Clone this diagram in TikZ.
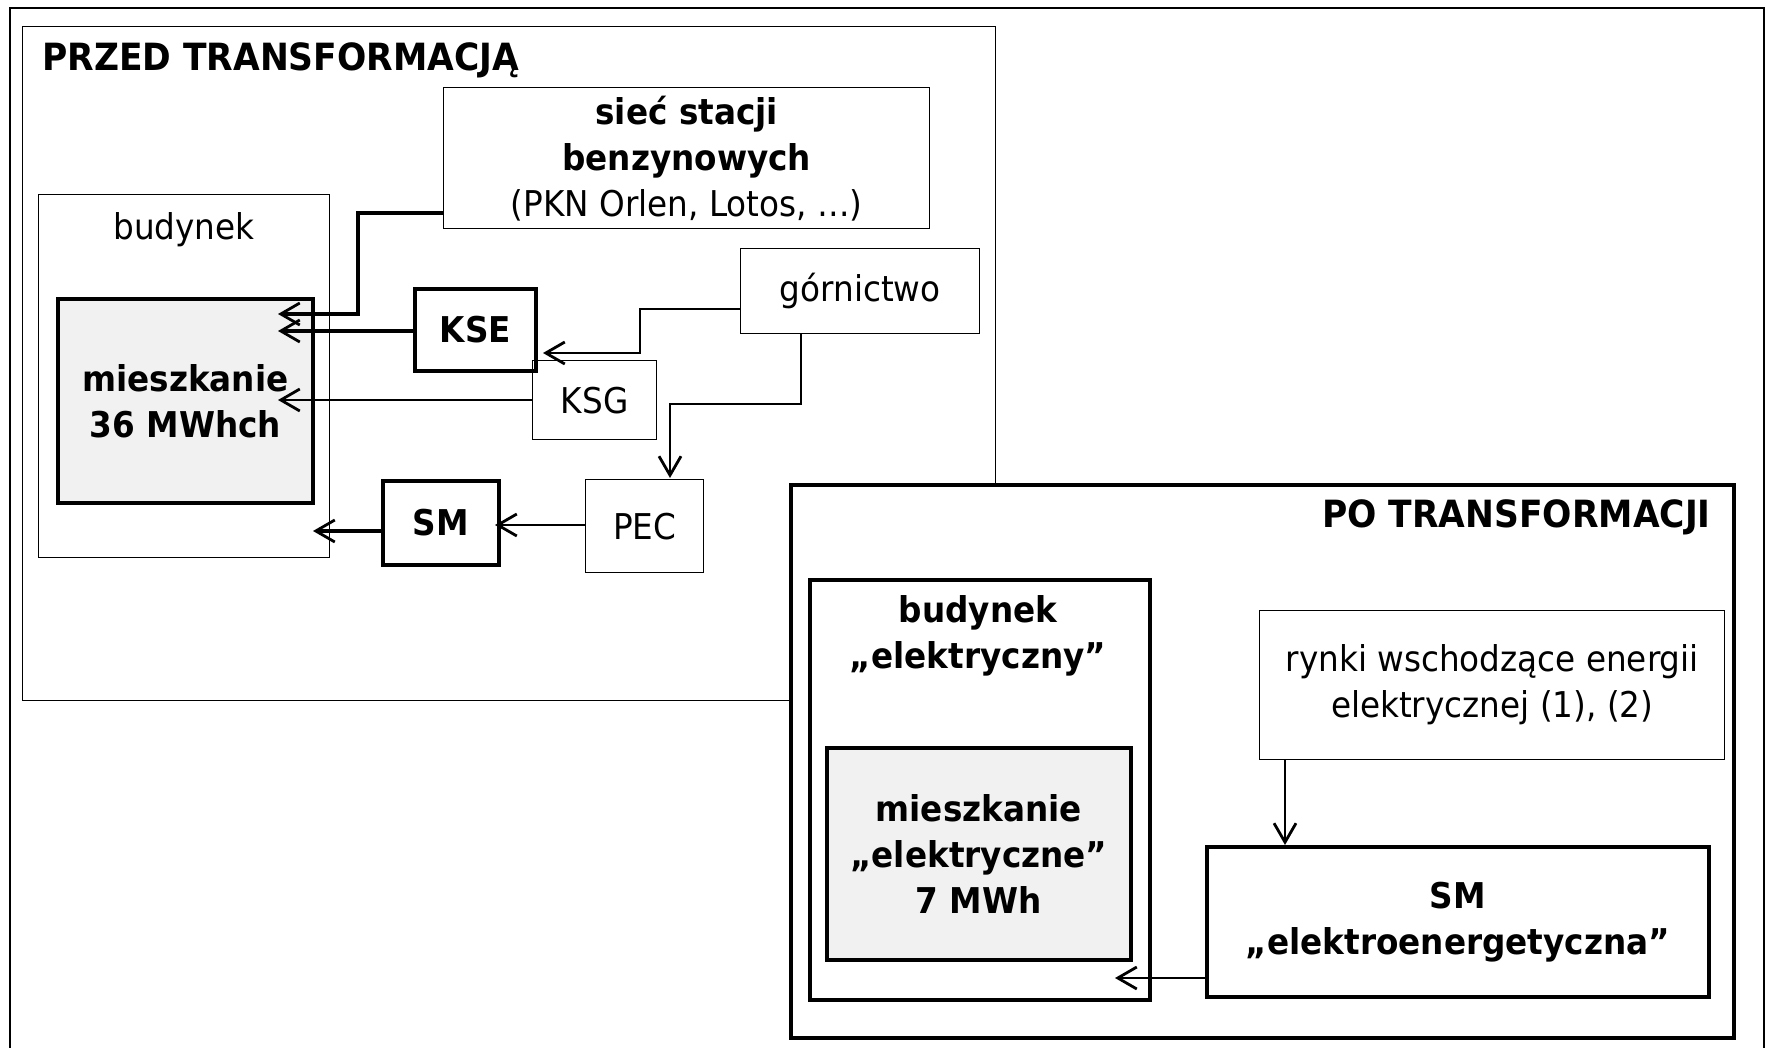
\documentclass[tikz,border=0pt]{standalone}
\usepackage{fontspec}
\setmainfont{DejaVu Sans}[FakeStretch=0.92]
\usetikzlibrary{arrows.meta}

\definecolor{flatgray}{HTML}{F1F1F1}

\tikzset{
  frame/.style={draw, line width=1.4pt, inner sep=0pt, anchor=north west},
  thinbox/.style={draw, line width=1.4pt, inner sep=0pt, anchor=north west, align=center,
                  font=\fontsize{35.5}{46}\selectfont},
  thickbox/.style={draw, line width=3.6pt, inner sep=0pt, anchor=north west, align=center,
                   font=\fontsize{35.5}{46}\selectfont\bfseries},
  flat/.style={fill=flatgray},
  label/.style={inner sep=0pt, align=center, font=\fontsize{35.5}{46}\selectfont},
  boldlabel/.style={inner sep=0pt, align=center, font=\fontsize{35.5}{46}\selectfont\bfseries},
  titlelabel/.style={inner sep=0pt, font=\fontsize{37.5}{46}\selectfont\bfseries},
  thinline/.style={line width=1.6pt},
  thickline/.style={line width=4.5pt},
  barb/.style={-{Straight Barb[length=19pt,width=22pt,line width=2.8pt]}},
}

\begin{document}
\begin{tikzpicture}[x=1pt, y=-1pt]
\useasboundingbox (0,0) rectangle (1769,1048);

% outer border (bottom edge lies on the page edge)
\draw[line width=2.2pt] (10,1048) -- (10,8) -- (1764,8) -- (1764,1048);

% ---------- before the transformation ----------
\node[frame, minimum width=973pt, minimum height=674pt] (przed) at (22,26) {};
\node[titlelabel, anchor=west] (przedtitle) at (42,60) {PRZED TRANSFORMACJĄ};

\node[thinbox, minimum width=486pt, minimum height=141pt] (siec) at (443,87)
  {\bfseries sieć stacji\\ \bfseries benzynowych\\ (PKN Orlen, Lotos, …)};

\node[thinbox, minimum width=291pt, minimum height=363pt] (bud) at (38,194) {};
\node[label] (budlabel) at (184,230) {budynek};

\node[thickbox, flat, minimum width=255pt, minimum height=204pt] (mieszk) at (56,297)
  {mieszkanie\\36 MWhch};

\node[thickbox, minimum width=121pt, minimum height=82pt] (kse) at (413,287) {KSE};
\node[thinbox, minimum width=239pt, minimum height=85pt] (gorn) at (740,248) {górnictwo};
\node[thinbox, minimum width=124pt, minimum height=79pt] (ksg) at (532,360) {KSG};
\node[thinbox, minimum width=118pt, minimum height=93pt] (pec) at (585,479) {PEC};
\node[thickbox, minimum width=116pt, minimum height=84pt] (sm) at (381,479) {SM};

% connector end points
\coordinate (yFuel) at (0,213);
\coordinate (tFuel) at (278,314);
\coordinate (tKse) at (278,331);
\coordinate (tKsg) at (278,400);
\coordinate (yMine) at (0,309);
\coordinate (tMineKse) at (543,353);
\coordinate (xMinePec) at (801,0);
\coordinate (tMinePec) at (670,478);
\coordinate (tPec) at (495,525);
\coordinate (yPec) at (0,525);
\coordinate (tSm) at (313,531);
\coordinate (ySm) at (0,531);

\draw[thickline, barb] (siec.west |- yFuel) -- (358,213) -- (358,314) -- (tFuel);
\draw[thickline, barb] (kse.west |- tKse) -- (tKse);
\draw[thinline, barb] (ksg.west |- tKsg) -- (tKsg);
\draw[thinline, barb] (gorn.west |- yMine) -- (640,309) -- (640,353) -- (tMineKse);
\draw[thinline, barb] (gorn.south -| xMinePec) -- (801,404) -- (670,404) -- (tMinePec);
\draw[thinline, barb] (pec.west |- yPec) -- (tPec);
\draw[thickline, barb] (sm.west |- ySm) -- (tSm);

% ---------- after the transformation ----------
\node[frame, line width=3.6pt, fill=white, minimum width=943pt, minimum height=553pt] (po) at (789,483) {};
\node[titlelabel, anchor=east] (potitle) at (1711,517) {PO TRANSFORMACJI};

\node[thickbox, minimum width=340pt, minimum height=420pt] (budel) at (808,578) {};
\node[boldlabel] (budellabel) at (978,636) {budynek\\„elektryczny”};

\node[thickbox, flat, minimum width=304pt, minimum height=212pt] (mieszel) at (825,746)
  {mieszkanie\\„elektryczne”\\7 MWh};

\node[thinbox, minimum width=465pt, minimum height=149pt] (rynki) at (1259,610)
  {rynki wschodzące energii\\elektrycznej (1), (2)};

\node[thickbox, minimum width=502pt, minimum height=150pt] (smel) at (1205,845)
  {SM\\„elektroenergetyczna”};

\coordinate (xMarket) at (1285,0);
\coordinate (tSmel) at (1115,978);

\draw[thinline, barb] (rynki.south -| xMarket) -- (smel.north -| xMarket);
\draw[thinline, barb] (smel.west |- tSmel) -- (tSmel);

\end{tikzpicture}
\end{document}
